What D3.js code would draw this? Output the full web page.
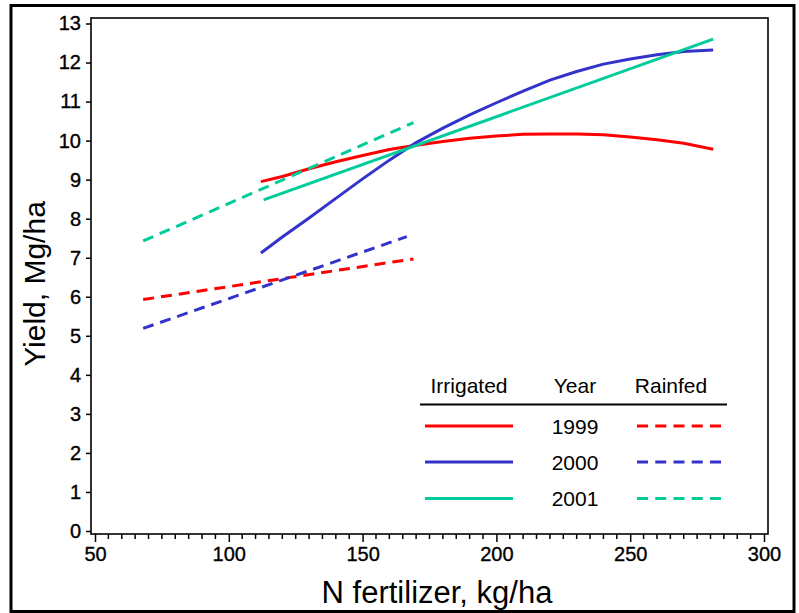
<!DOCTYPE html>
<html>
<head>
<meta charset="utf-8">
<script src="https://cdn.jsdelivr.net/npm/d3@7"></script>
<style>
  body { margin: 0; background: #fff; }
  text { font-family: Arial, "Liberation Sans", sans-serif; fill: #000; }
</style>
</head>
<body>
<div class="container"></div>
<script>
// N rates (kg/ha) and yields (Mg/ha)
const irrigatedN = [112, 120, 130, 140, 150, 160, 170, 180, 190, 200, 210, 220, 230, 240, 250, 260, 270, 281]
const irr1999 = [8.95, 9.08, 9.28, 9.46, 9.62, 9.77, 9.88, 9.98, 10.06, 10.12, 10.16, 10.17, 10.17, 10.15, 10.09, 10.02, 9.93, 9.78]
const irr2000 = [7.12, 7.53, 8.02, 8.52, 9.02, 9.5, 9.95, 10.32, 10.66, 10.97, 11.27, 11.55, 11.77, 11.96, 12.09, 12.2, 12.28, 12.32]
const irrigatedN2001 = [113, 281]
const irr2001 = [8.48, 12.6]

const rainfedN = [68, 169]
const rainfedN2000 = [68, 166.5]
const rain1999 = [5.93, 6.97]
const rain2000 = [5.19, 7.54]
const rain2001 = [7.43, 10.46]

const years = ['1999', '2000', '2001']
const colors = ['#ff0000', '#3333cc', '#00cc99']

const xTicks = [50, 100, 150, 200, 250, 300]
const yTicks = d3.range(0, 14)

const series = [
  { n: irrigatedN, y: irr1999, c: colors[0], dash: null },
  { n: irrigatedN, y: irr2000, c: colors[1], dash: null },
  { n: irrigatedN2001, y: irr2001, c: colors[2], dash: null },
  { n: rainfedN, y: rain1999, c: colors[0], dash: '11,7' },
  { n: rainfedN2000, y: rain2000, c: colors[1], dash: '11,7' },
  { n: rainfedN, y: rain2001, c: colors[2], dash: '11,7' },
]

const W = 799, H = 613
const frame = { left: 91, right: 768, top: 18, bottom: 534 }

const svg = d3.select('.container')
  .append('svg')
  .attr('width', W)
  .attr('height', H)

// outer border
svg.append('rect')
  .attr('x', 11).attr('y', 5.5)
  .attr('width', 783).attr('height', 606)
  .attr('fill', 'none')
  .attr('stroke', '#000')
  .attr('stroke-width', 3)

const x = d3.scaleLinear().domain([50, 300]).range([95, 764])
const y = d3.scaleLinear().domain([0, 13]).range([531, 23.5])

// plot frame
svg.append('rect')
  .attr('x', frame.left).attr('y', frame.top)
  .attr('width', frame.right - frame.left)
  .attr('height', frame.bottom - frame.top)
  .attr('fill', 'none')
  .attr('stroke', '#000')
  .attr('stroke-width', 1.6)

// y axis
const yAxis = svg.append('g')
  .attr('transform', `translate(${frame.left},0)`)
  .call(d3.axisLeft(y).tickValues(yTicks).tickSize(5).tickPadding(5).tickSizeOuter(0))
yAxis.select('.domain').remove()
yAxis.selectAll('line').attr('stroke-width', 1.5)
yAxis.selectAll('text').style('font-size', '20px').attr('font-family', null)
  .attr('stroke', '#000').attr('stroke-width', 0.35)

// x axis, major + minor ticks
const xAxis = svg.append('g')
  .attr('transform', `translate(0,${frame.bottom})`)
  .call(d3.axisBottom(x).tickValues(xTicks).tickSize(8).tickPadding(5).tickSizeOuter(0))
xAxis.select('.domain').remove()
xAxis.selectAll('line').attr('stroke-width', 1.5)
xAxis.selectAll('text').style('font-size', '20px').attr('font-family', null)
  .attr('stroke', '#000').attr('stroke-width', 0.35)

svg.append('g')
  .attr('transform', `translate(0,${frame.bottom})`)
  .selectAll('line')
  .data(d3.range(55, 300, 5).filter(d => d % 50 !== 0))
  .enter()
  .append('line')
  .attr('x1', d => x(d)).attr('x2', d => x(d))
  .attr('y1', 0).attr('y2', 5)
  .attr('stroke', '#000')
  .attr('stroke-width', 1.5)

// axis titles
svg.append('text')
  .attr('x', 437).attr('y', 603)
  .attr('text-anchor', 'middle')
  .style('font-size', '31px')
  .text('N fertilizer, kg/ha')

svg.append('text')
  .attr('transform', 'translate(45,284) rotate(-90)')
  .attr('text-anchor', 'middle')
  .style('font-size', '30px')
  .text('Yield, Mg/ha')

// lines
const line = d3.line()
  .x(d => x(d[0]))
  .y(d => y(d[1]))

svg.append('g')
  .selectAll('path')
  .data(series)
  .enter()
  .append('path')
  .attr('d', s => line(s.n.map((n, i) => [n, s.y[i]])))
  .attr('fill', 'none')
  .attr('stroke', s => s.c)
  .attr('stroke-width', 3)
  .attr('stroke-dasharray', s => s.dash)

// legend
const lg = svg.append('g')
lg.append('text').attr('x', 469).attr('y', 393).attr('text-anchor', 'middle').style('font-size', '21px').text('Irrigated')
lg.append('text').attr('x', 575).attr('y', 393).attr('text-anchor', 'middle').style('font-size', '21px').text('Year')
lg.append('text').attr('x', 671).attr('y', 393).attr('text-anchor', 'middle').style('font-size', '21px').text('Rainfed')
lg.append('line').attr('x1', 420).attr('x2', 727).attr('y1', 404.5).attr('y2', 404.5)
  .attr('stroke', '#000').attr('stroke-width', 2)

const rowY = [426, 462, 498.5]
years.forEach((yr, i) => {
  lg.append('line').attr('x1', 425).attr('x2', 513).attr('y1', rowY[i]).attr('y2', rowY[i])
    .attr('stroke', colors[i]).attr('stroke-width', 3)
  lg.append('line').attr('x1', 637).attr('x2', 721).attr('y1', rowY[i]).attr('y2', rowY[i])
    .attr('stroke', colors[i]).attr('stroke-width', 3).attr('stroke-dasharray', '11,7.25')
  lg.append('text').attr('x', 575).attr('y', rowY[i] + 7.5).attr('text-anchor', 'middle')
    .style('font-size', '21px').text(yr)
})
</script>
</body>
</html>
